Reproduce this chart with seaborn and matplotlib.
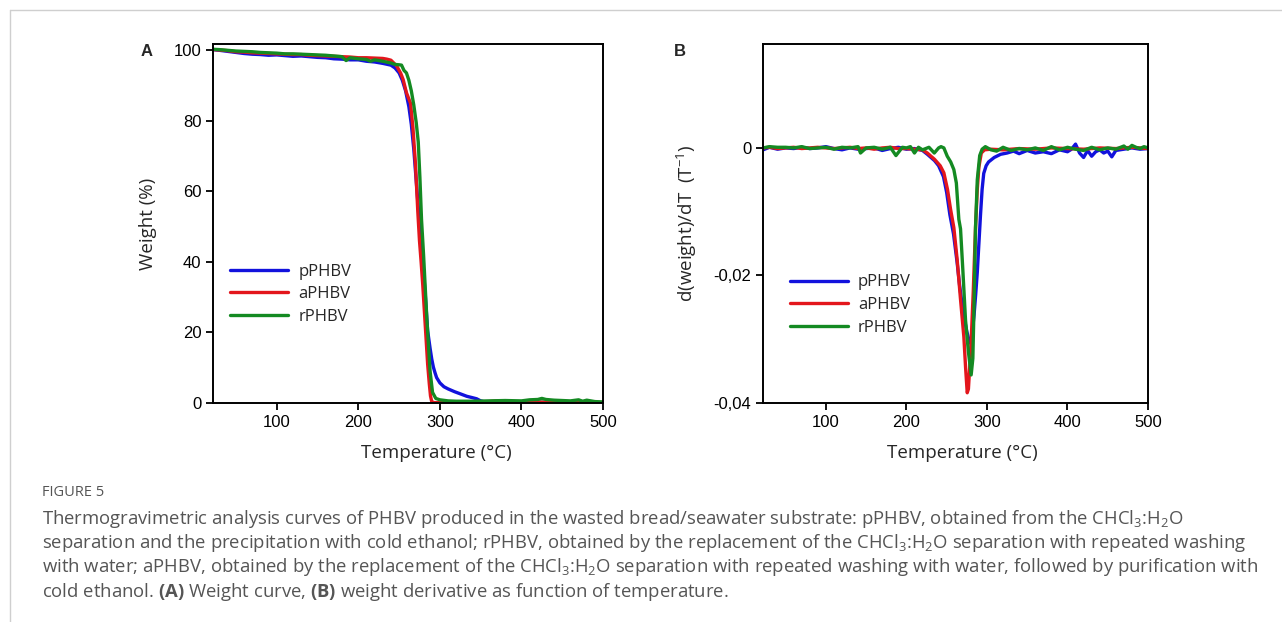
import numpy as np
import pandas as pd
import matplotlib
matplotlib.use("Agg")
import matplotlib.pyplot as plt
import seaborn as sns
from matplotlib.lines import Line2D

# ---- Panel A: weight (%) ----
t_p_w = [22, 30, 40, 50, 60, 70, 80, 90, 100, 110, 120, 130, 140, 150, 160, 170, 180, 190, 200,
         210, 220, 230, 240, 245, 250, 254, 258, 262, 265, 268, 271, 274, 276, 278, 280, 282, 285,
         288, 290, 292, 294, 296, 300, 305, 310, 318, 325, 333, 340, 345, 350, 355, 360, 380, 400,
         420, 440, 460, 480, 500]
w_p = [100.2, 100.0, 99.7, 99.4, 99.1, 98.9, 98.8, 98.6, 98.7, 98.5, 98.3, 98.4, 98.2, 98.0, 97.9,
       97.6, 97.5, 97.3, 97.3, 96.9, 96.7, 96.3, 95.8, 95.0, 93.6, 91.5, 88.5, 84.0, 79.0, 72.0,
       63.0, 54.0, 48.5, 43.0, 37.0, 31.0, 20.5, 15.5, 12.5, 10.2, 8.6, 7.2, 5.7, 4.6, 4.0, 3.2,
       2.6, 1.9, 1.5, 1.2, 0.6, 0.3, 0.2, 0.2, 0.3, 0.2, 0.2, 0.1, 0.1, 0.1]

t_a_w = [22, 30, 40, 50, 60, 70, 80, 90, 100, 110, 120, 130, 140, 150, 160, 170, 180, 190, 200,
         210, 220, 230, 235, 240, 247, 252, 255, 259, 264, 267, 270, 273, 275, 277, 279, 281, 283,
         285, 287, 288.5, 290, 293, 300, 320, 340, 360, 370, 380, 400, 420, 440, 460, 480, 500]
w_a = [100.2, 100.1, 99.9, 99.6, 99.5, 99.3, 99.2, 99.1, 99.0, 98.9, 98.8, 98.8, 98.6, 98.5, 98.4,
       98.3, 98.2, 98.1, 97.9, 97.9, 97.8, 97.7, 97.5, 97.2, 95.6, 93.5, 91.7, 88.0, 85.0, 78.0,
       68.0, 54.0, 46.0, 40.0, 33.5, 26.0, 18.5, 11.0, 5.5, 2.0, 0.4, 0.1, 0.1, 0.2, 0.3, 0.4,
       0.6, 0.3, 0.2, 0.3, 0.1, 0.2, 0.2, 0.1]

t_r_w = [22, 30, 40, 50, 60, 70, 80, 90, 100, 110, 120, 130, 140, 150, 160, 170, 180, 185, 190,
         200, 210, 215, 220, 230, 240, 245, 250, 253, 256, 259, 262, 265, 268, 271, 273.5, 275.5,
         277.5, 280, 284, 288, 291, 295, 300, 310, 320, 340, 360, 380, 400, 410, 420, 425, 430,
         440, 460, 470, 475, 480, 490, 500]
w_r = [100.3, 100.2, 100.0, 99.8, 99.7, 99.6, 99.4, 99.3, 99.2, 99.0, 99.0, 98.9, 98.8, 98.7,
       98.6, 98.4, 98.2, 97.1, 97.9, 97.6, 97.4, 96.9, 97.3, 96.9, 96.4, 96.0, 95.9, 95.8, 94.3,
       93.6, 91.5, 88.5, 84.5, 79.5, 74.0, 64.0, 52.0, 42.0, 24.0, 9.0, 3.0, 1.3, 0.9, 0.6, 0.5,
       0.5, 0.6, 0.7, 0.6, 0.9, 1.0, 1.3, 1.0, 0.8, 0.6, 0.9, 0.5, 0.8, 0.4, 0.3]

# ---- Panel B: derivative ----
t_p_d = [22, 30, 40, 50, 60, 70, 80, 90, 100, 110, 120, 130, 140, 150, 160, 170, 180, 190, 200,
         210, 220, 226, 235, 240, 246, 250, 254, 258.5, 263, 266, 269, 272, 275, 277, 279.2, 281,
         284, 286, 288, 290, 292, 294, 296, 299, 302, 309, 317, 325, 333, 340, 350, 360, 370, 380,
         390, 400, 405, 410, 415, 420, 425, 430, 435, 440, 445, 450, 455, 460, 470, 480, 490, 500]
d_p = [-0.0003, 0.0001, -0.0002, 0.0000, -0.0001, 0.0001, -0.0001, 0.0000, 0.0002, -0.0001,
       -0.0003, 0.0000, -0.0002, -0.0001, 0.0000, -0.0004, -0.0001, 0.0001, -0.0002, -0.0001,
       -0.0004, -0.0010, -0.0020, -0.0028, -0.0045, -0.0070, -0.0105, -0.0135, -0.0180, -0.0215,
       -0.0244, -0.0268, -0.0288, -0.0298, -0.0306, -0.0298, -0.0262, -0.0230, -0.0195, -0.0150,
       -0.0105, -0.0065, -0.0040, -0.0028, -0.0022, -0.0015, -0.0010, -0.0008, -0.0005, -0.0009,
       -0.0004, -0.0008, -0.0006, -0.0009, -0.0003, -0.0006, -0.0002, 0.0006, -0.0008, -0.0015,
       -0.0004, -0.0013, -0.0006, -0.0003, -0.0008, -0.0005, -0.0014, -0.0004, -0.0002, 0.0000,
       -0.0002, -0.0001]

t_a_d = [22, 30, 40, 50, 60, 70, 80, 90, 100, 110, 120, 130, 140, 150, 160, 170, 180, 190, 200,
         210, 220, 226, 235, 242, 246.5, 251, 254.8, 258.9, 263, 267, 271.3, 273.5, 275.5, 277,
         279, 281, 283, 285.8, 288, 290, 293, 297, 305, 320, 340, 360, 380, 400, 420, 440, 460,
         480, 490, 500]
d_a = [0.0000, 0.0001, -0.0001, 0.0000, 0.0001, -0.0001, 0.0000, 0.0001, 0.0000, -0.0001,
       0.0000, 0.0001, -0.0001, 0.0000, -0.0002, 0.0000, 0.0001, -0.0001, -0.0001, -0.0002,
       -0.0003, -0.0008, -0.0018, -0.0028, -0.0039, -0.0065, -0.0096, -0.0125, -0.0175, -0.0235,
       -0.0296, -0.0345, -0.0384, -0.0378, -0.0335, -0.0285, -0.0225, -0.0125, -0.0065, -0.0030,
       -0.0008, -0.0003, -0.0002, -0.0003, -0.0001, -0.0002, 0.0000, -0.0001, -0.0002, 0.0000,
       -0.0001, 0.0001, 0.0000, -0.0001]

t_r_d = [22, 30, 40, 50, 60, 70, 80, 90, 100, 110, 120, 130, 140, 143, 150, 160, 170, 180, 187,
         195, 200, 205, 210, 215, 220, 228, 234.6, 240, 243, 246.5, 250.7, 255, 258.9, 262, 265.1,
         267.2, 270, 273.4, 277, 280.4, 282.5, 284, 285.8, 288, 291, 294, 298, 305, 312, 320, 330,
         340, 350, 360, 370, 380, 390, 400, 410, 420, 430, 440, 450, 460, 470, 475, 480, 485, 490,
         495, 500]
d_r = [0.0000, 0.0002, 0.0001, 0.0001, 0.0000, 0.0002, -0.0001, 0.0000, 0.0001, -0.0002,
       0.0001, 0.0000, 0.0002, -0.0008, 0.0000, 0.0001, -0.0002, 0.0001, -0.0012, 0.0001,
       0.0000, 0.0002, -0.0008, 0.0001, -0.0003, 0.0001, -0.0008, 0.0000, 0.0002, 0.0000,
       -0.0013, -0.0022, -0.0034, -0.0055, -0.0112, -0.0127, -0.0190, -0.0270, -0.0320, -0.0356,
       -0.0330, -0.0245, -0.0125, -0.0050, -0.0012, -0.0002, 0.0002, -0.0003, -0.0005, 0.0001,
       -0.0004, -0.0001, -0.0003, 0.0000, -0.0004, 0.0002, -0.0003, 0.0001, -0.0002, -0.0004,
       0.0001, -0.0003, 0.0000, -0.0002, 0.0003, -0.0002, 0.0004, 0.0001, -0.0001, 0.0002, 0.0000]

samples = ["pPHBV", "aPHBV", "rPHBV"]
colors = ["#1212dd", "#e3161c", "#148a22"]

weight = pd.concat([
    pd.DataFrame({"T": t_p_w, "y": w_p, "sample": "pPHBV"}),
    pd.DataFrame({"T": t_a_w, "y": w_a, "sample": "aPHBV"}),
    pd.DataFrame({"T": t_r_w, "y": w_r, "sample": "rPHBV"}),
])
deriv = pd.concat([
    pd.DataFrame({"T": t_p_d, "y": d_p, "sample": "pPHBV"}),
    pd.DataFrame({"T": t_a_d, "y": d_a, "sample": "aPHBV"}),
    pd.DataFrame({"T": t_r_d, "y": d_r, "sample": "rPHBV"}),
])

sns.set_style("ticks")
plt.rcParams["font.family"] = ["Liberation Sans", "DejaVu Sans"]
plt.rcParams["mathtext.fontset"] = "custom"
plt.rcParams["mathtext.rm"] = "Open Sans"
plt.rcParams["mathtext.it"] = "Open Sans:italic"
plt.rcParams["mathtext.bf"] = "Open Sans:bold"

fig = plt.figure(figsize=(12.82, 6.22), dpi=100)
axA = fig.add_axes([0.1662, 0.3521, 0.3042, 0.5772])
axB = fig.add_axes([0.5952, 0.3521, 0.3003, 0.5772])

lab_font = dict(family="Open Sans", size=13.5)
for ax, df in [(axA, weight), (axB, deriv)]:
    sns.lineplot(data=df, x="T", y="y", hue="sample", hue_order=samples, palette=colors,
                 estimator=None, sort=False, linewidth=2.4, ax=ax, legend=False,
                 solid_joinstyle="round", solid_capstyle="round")
    for s in ax.spines.values():
        s.set_linewidth(1.4)
        s.set_color("black")
    ax.tick_params(axis="both", direction="out", length=5, width=1.3, labelsize=12,
                   colors="black", top=False, right=False)
    ax.set_xlim(22, 500)
    ax.set_xticks([100, 200, 300, 400, 500])
    ax.set_xlabel("Temperature (°C)", fontdict=lab_font)

axA.xaxis.set_label_coords(0.572, -0.115)
axB.xaxis.set_label_coords(0.517, -0.115)

axA.set_ylim(0, 101.8)
axA.set_yticks([0, 20, 40, 60, 80, 100])
axA.set_ylabel("Weight (%)", fontdict=lab_font, labelpad=12)

axB.set_ylim(-0.04, 0.0163)
axB.set_yticks([0, -0.02, -0.04])
axB.set_yticklabels(["0", "-0,02", "-0,04"])
axB.set_ylabel("d(weight)/dT  (T$^{-1}$)", fontdict=lab_font, labelpad=10)

handles = [Line2D([], [], color=c, linewidth=2.4) for c in colors]
for ax, anchor in [(axA, (0.005, 0.43)), (axB, (0.03, 0.40))]:
    ax.legend(handles, samples, loc="upper left", bbox_to_anchor=anchor, frameon=False,
              handlelength=3.5, handletextpad=0.6, labelspacing=0.4,
              prop=dict(family="Open Sans", size=12))

fig.text(147 / 1282, 1 - 52 / 622, "A", fontsize=12, fontweight="bold", ha="center", va="center")
fig.text(680 / 1282, 1 - 52 / 622, "B", fontsize=12, fontweight="bold", ha="center", va="center")

# page frame
fig.add_artist(Line2D([10 / 1282, 1], [1 - 10 / 622, 1 - 10 / 622], color="#cfcfcf", linewidth=1))
fig.add_artist(Line2D([10 / 1282, 10 / 1282], [0, 1 - 10 / 622], color="#cfcfcf", linewidth=1))

cap = dict(family="Open Sans", color="#555555", size=13.3, ha="left", va="center")
fig.text(42 / 1282, 1 - 493 / 622, "FIGURE 5", family="Open Sans", color="#555555", size=10.5,
         ha="left", va="center")
lines = [
    "Thermogravimetric analysis curves of PHBV produced in the wasted bread/seawater substrate: pPHBV, obtained from the CHCl$_3$:H$_2$O",
    "separation and the precipitation with cold ethanol; rPHBV, obtained by the replacement of the CHCl$_3$:H$_2$O separation with repeated washing",
    "with water; aPHBV, obtained by the replacement of the CHCl$_3$:H$_2$O separation with repeated washing with water, followed by purification with",
    r"cold ethanol. $\mathbf{(A)}$ Weight curve, $\mathbf{(B)}$ weight derivative as function of temperature.",
]
for i, ln in enumerate(lines):
    fig.text(42 / 1282, 1 - (519 + i * 24.2) / 622, ln, **cap)

fig.savefig("out.png", dpi=100)
